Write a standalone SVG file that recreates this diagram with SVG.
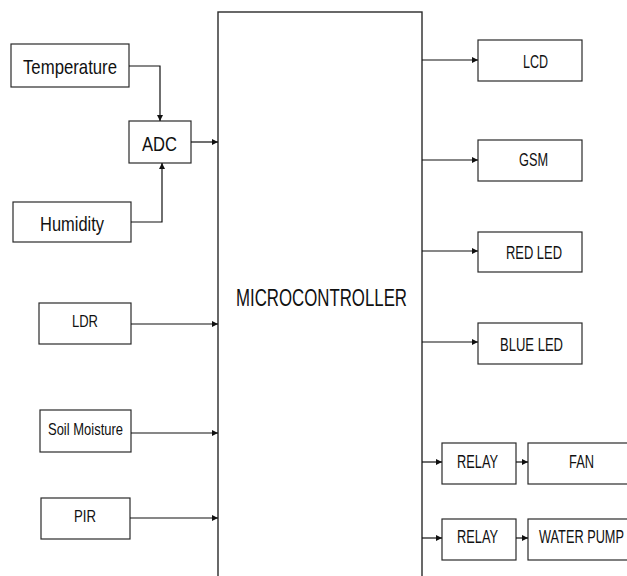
<svg xmlns="http://www.w3.org/2000/svg" width="627" height="576" viewBox="0 0 627 576">
<style>
.box{fill:#fff;stroke:#2a2a2a;stroke-width:1.2}
.mc{fill:#fff;stroke:#2a2a2a;stroke-width:1.4}
.t{font-family:"Liberation Sans",Arial,sans-serif;fill:#111}
.c{fill:none;stroke:#111;stroke-width:1.2}
</style>
<defs>
<marker id="ah" markerUnits="userSpaceOnUse" markerWidth="7" markerHeight="7" refX="6" refY="3" orient="auto">
<path d="M0,0 L6,3 L0,6 z" fill="#111"/>
</marker>
</defs>
<rect width="627" height="576" fill="#fff"/>
<g id="microcontroller">
<rect class="mc" x="218" y="12" width="204" height="580"/>
<text class="t" x="236" y="306" font-size="23" textLength="171" lengthAdjust="spacingAndGlyphs">MICROCONTROLLER</text>
</g>
<g id="temperature">
<rect class="box" x="11" y="44" width="118" height="43"/>
<text class="t" x="23" y="74" font-size="21" textLength="94" lengthAdjust="spacingAndGlyphs">Temperature</text>
</g>
<g id="adc">
<rect class="box" x="129" y="121" width="62" height="42"/>
<text class="t" x="142" y="151" font-size="21" textLength="35" lengthAdjust="spacingAndGlyphs">ADC</text>
</g>
<g id="humidity">
<rect class="box" x="13" y="202" width="118" height="40"/>
<text class="t" x="40" y="231" font-size="21" textLength="64" lengthAdjust="spacingAndGlyphs">Humidity</text>
</g>
<g id="ldr">
<rect class="box" x="39" y="303" width="92" height="41"/>
<text class="t" x="72" y="327" font-size="17" textLength="26" lengthAdjust="spacingAndGlyphs">LDR</text>
</g>
<g id="soil">
<rect class="box" x="40" y="410" width="91" height="42"/>
<text class="t" x="48" y="435" font-size="17" textLength="75" lengthAdjust="spacingAndGlyphs">Soil Moisture</text>
</g>
<g id="pir">
<rect class="box" x="41" y="498" width="89" height="41"/>
<text class="t" x="74" y="522" font-size="17" textLength="22" lengthAdjust="spacingAndGlyphs">PIR</text>
</g>
<g id="lcd">
<rect class="box" x="478" y="40" width="104" height="41"/>
<text class="t" x="523" y="68" font-size="18" textLength="25" lengthAdjust="spacingAndGlyphs">LCD</text>
</g>
<g id="gsm">
<rect class="box" x="478" y="140" width="104" height="41"/>
<text class="t" x="519" y="166" font-size="18" textLength="29" lengthAdjust="spacingAndGlyphs">GSM</text>
</g>
<g id="redled">
<rect class="box" x="478" y="232" width="104" height="40"/>
<text class="t" x="506" y="259" font-size="18" textLength="56" lengthAdjust="spacingAndGlyphs">RED LED</text>
</g>
<g id="blueled">
<rect class="box" x="478" y="323" width="104" height="41"/>
<text class="t" x="500" y="351" font-size="18" textLength="63" lengthAdjust="spacingAndGlyphs">BLUE LED</text>
</g>
<g id="relay1">
<rect class="box" x="442" y="443" width="74" height="41"/>
<text class="t" x="457" y="468" font-size="18" textLength="41" lengthAdjust="spacingAndGlyphs">RELAY</text>
</g>
<g id="fan">
<rect class="box" x="528" y="443" width="104" height="41"/>
<text class="t" x="569" y="468" font-size="18" textLength="25" lengthAdjust="spacingAndGlyphs">FAN</text>
</g>
<g id="relay2">
<rect class="box" x="442" y="519" width="74" height="41"/>
<text class="t" x="457" y="543" font-size="18" textLength="41" lengthAdjust="spacingAndGlyphs">RELAY</text>
</g>
<g id="waterpump">
<rect class="box" x="528" y="519" width="104" height="41"/>
<text class="t" x="539" y="543" font-size="18" textLength="85" lengthAdjust="spacingAndGlyphs">WATER PUMP</text>
</g>
<g id="connectors">
<path class="c" d="M129,66 H160 V121" marker-end="url(#ah)"/>
<path class="c" d="M131,222 H162 V163" marker-end="url(#ah)"/>
<path class="c" d="M191,142 H218" marker-end="url(#ah)"/>
<path class="c" d="M131,324 H218" marker-end="url(#ah)"/>
<path class="c" d="M131,433 H218" marker-end="url(#ah)"/>
<path class="c" d="M130,518 H218" marker-end="url(#ah)"/>
<path class="c" d="M422,60 H478" marker-end="url(#ah)"/>
<path class="c" d="M422,160 H478" marker-end="url(#ah)"/>
<path class="c" d="M422,251 H478" marker-end="url(#ah)"/>
<path class="c" d="M422,342 H478" marker-end="url(#ah)"/>
<path class="c" d="M422,462 H442" marker-end="url(#ah)"/>
<path class="c" d="M422,538 H442" marker-end="url(#ah)"/>
<path class="c" d="M516,462 H528" marker-end="url(#ah)"/>
<path class="c" d="M516,538 H528" marker-end="url(#ah)"/>
</g>
</svg>
